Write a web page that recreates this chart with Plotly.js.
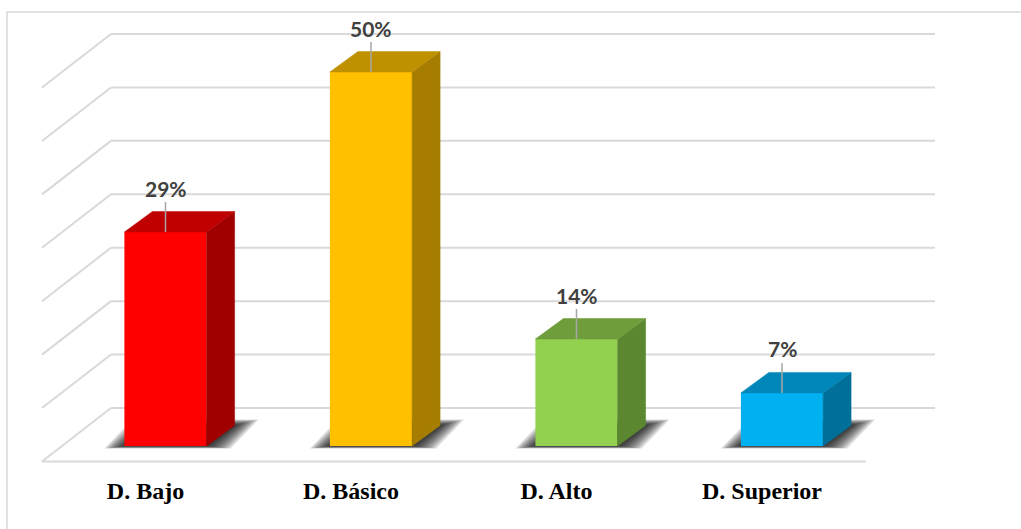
<!DOCTYPE html>
<html>
<head>
<meta charset="utf-8">
<script src="https://cdn.plot.ly/plotly-3.0.1.min.js"></script>
<style>
  html, body { margin: 0; padding: 0; background: #ffffff; }
  #chart { width: 1021px; height: 529px; }
</style>
</head>
<body>
<div id="chart"></div>
<script>
// ---- data ----
const categories = ['D. Bajo', 'D. Básico', 'D. Alto', 'D. Superior'];
const values = [28.6, 50.0, 14.3, 7.1];
const frontColors = ['#FF0000', '#FFC000', '#92D050', '#00B0F0'];
const topColors = ['#C00000', '#BF9000', '#6F9D3B', '#0086B8'];
const sideColors = ['#A00000', '#A67D00', '#5B8731', '#00709A'];
const gridValues = [0, 10, 20, 30, 40, 50, 60, 70];

// ---- view geometry (oblique 3D projection, in axis units) ----
const PX_X = 205.5;            // pixels per category unit
const PX_Y = 7.48;             // pixels per percent unit
const BAR_W = 0.4;
const DEPTH = { dx: 28 / PX_X, dy: 20.5 / PX_Y };          // bar depth
const FLOOR_FRONT = { dx: -20 / PX_X, dy: -15 / PX_Y };    // bar front -> floor front
const WALL = { left: -54.5 / PX_X, right: 769.5 / PX_X, base: 38 / PX_Y, scale: 5.343 / PX_Y };
const SIDE = { dx: -69 / PX_X, dy: -53.5 / PX_Y };         // back wall -> front of side wall

const xs = categories.map((c, i) => i);
const shapes = [];
const gridStyle = { color: '#D9D9D9', width: 2 };

// back-wall and side-wall gridlines
gridValues.forEach(v => {
  const wy = WALL.base + v * WALL.scale;
  shapes.push({ type: 'line', layer: 'below', xref: 'x', yref: 'y',
    x0: WALL.left, y0: wy, x1: WALL.right, y1: wy, line: gridStyle });
  shapes.push({ type: 'line', layer: 'below', xref: 'x', yref: 'y',
    x0: WALL.left, y0: wy, x1: WALL.left + SIDE.dx, y1: wy + SIDE.dy, line: gridStyle });
});
// floor front edge
shapes.push({ type: 'line', layer: 'below', xref: 'x', yref: 'y',
  x0: WALL.left + SIDE.dx, y0: WALL.base + SIDE.dy,
  x1: WALL.right + SIDE.dx, y1: WALL.base + SIDE.dy, line: gridStyle });

// soft shadows under bars (many translucent footprints = blur)
const SHADOW_STEPS = 10;
const shadowMax = { l: 20, r: 24, f: 2.5, b: 6 };
xs.forEach(x => {
  for (let k = 0; k < SHADOW_STEPS; k++) {
    const t = 1 - k / SHADOW_STEPS;
    const xl = x - BAR_W / 2 - t * shadowMax.l / PX_X;
    const xr = x + BAR_W / 2 + t * shadowMax.r / PX_X;
    const yf = -t * shadowMax.f / PX_Y;
    const yb = DEPTH.dy + t * shadowMax.b / PX_Y;
    shapes.push({ type: 'path', layer: 'below', xref: 'x', yref: 'y',
      path: `M ${xl},${yf} L ${xr},${yf} L ${xr + DEPTH.dx},${yb} L ${xl + DEPTH.dx},${yb} Z`,
      fillcolor: 'rgba(0,0,0,0.13)', line: { width: 0 } });
  }
});

// chart border
shapes.push({ type: 'rect', xref: 'paper', yref: 'paper', layer: 'below',
  x0: 7 / 1021, x1: 1.05, y0: -0.3, y1: (470 - 12) / 470,
  line: { color: '#D9D9D9', width: 1.5 }, fillcolor: 'rgba(0,0,0,0)' });

const traces = [];
// front faces
traces.push({
  type: 'bar', x: xs, y: values, width: BAR_W,
  marker: { color: frontColors, line: { width: 0 } },
  hoverinfo: 'skip', showlegend: false
});
// side and top faces
xs.forEach((x, i) => {
  const v = values[i];
  const r = x + BAR_W / 2, l = x - BAR_W / 2;
  traces.push({
    type: 'scatter', mode: 'lines', fill: 'toself', fillcolor: sideColors[i],
    x: [r, r, r + DEPTH.dx, r + DEPTH.dx, r],
    y: [0, v, v + DEPTH.dy, DEPTH.dy, 0],
    line: { color: sideColors[i], width: 0.5 }, hoverinfo: 'skip', showlegend: false
  });
  traces.push({
    type: 'scatter', mode: 'lines', fill: 'toself', fillcolor: topColors[i],
    x: [l, r, r + DEPTH.dx, l + DEPTH.dx, l],
    y: [v, v, v + DEPTH.dy, v + DEPTH.dy, v],
    line: { color: topColors[i], width: 0.5 }, hoverinfo: 'skip', showlegend: false
  });
});

// data labels with leader lines
const annotations = xs.map((x, i) => ({
  x: x, y: values[i], xref: 'x', yref: 'y',
  text: Math.round(values[i]) + '%',
  showarrow: true, arrowhead: 0, arrowwidth: 1.5, arrowcolor: '#A6A6A6',
  ax: 0, ay: -44, standoff: 0,
  font: { family: 'Lato, "Open Sans", sans-serif', size: 21, color: '#404040', weight: 'bold' }
}));

const H = 529, W = 1021, BOTTOM = 470;
const layout = {
  width: W, height: H,
  margin: { l: 0, r: 0, t: 0, b: H - BOTTOM, pad: 0 },
  paper_bgcolor: '#FFFFFF', plot_bgcolor: 'rgba(0,0,0,0)',
  showlegend: false,
  xaxis: {
    range: [-165.5 / PX_X, (W - 165.5) / PX_X],
    showgrid: false, zeroline: false, showline: false, ticks: '',
    tickvals: xs.map(x => x + FLOOR_FRONT.dx), ticktext: categories,
    tickfont: { family: '"Liberation Serif", "Times New Roman", serif', size: 24, color: '#000000', weight: 'bold' },
    ticklabelstandoff: 4, fixedrange: true
  },
  yaxis: {
    range: [-(BOTTOM - 446) / PX_Y, 446 / PX_Y],
    showgrid: false, zeroline: false, showline: false, showticklabels: false, ticks: '',
    fixedrange: true
  },
  shapes: shapes,
  annotations: annotations
};

Plotly.newPlot('chart', traces, layout, { displayModeBar: false, staticPlot: true });
</script>
</body>
</html>
